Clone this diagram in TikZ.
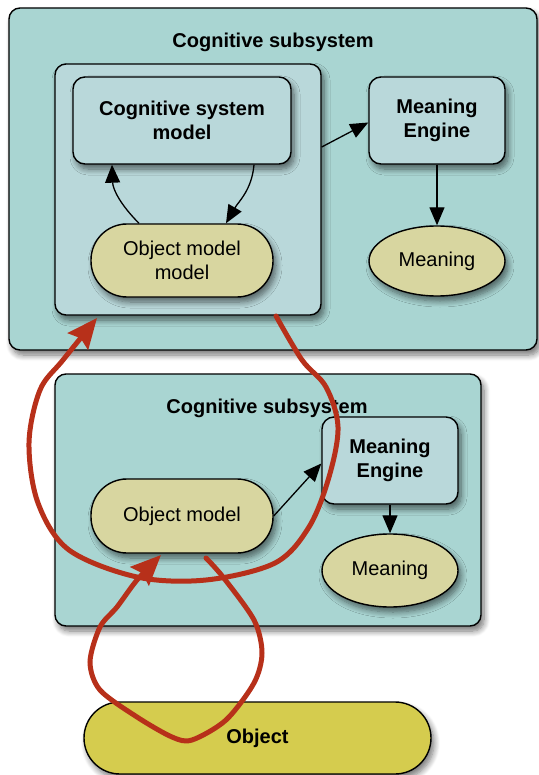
\documentclass[tikz,border=0pt]{standalone}
\usepackage{fontspec}
\setmainfont{Liberation Sans}
\usetikzlibrary{arrows.meta,shapes.geometric,shadows,shadows.blur}
\definecolor{tealbg}{HTML}{A9D5D2}
\definecolor{innerbg}{HTML}{B9D8DA}
\definecolor{khaki}{HTML}{D8D6A0}
\definecolor{objyellow}{HTML}{D5CC4E}
\definecolor{redline}{HTML}{B7301A}
\begin{document}
\begin{tikzpicture}[x=1pt,y=1pt,
  every node/.style={font=\fontsize{20}{24}\selectfont, align=center, inner sep=0pt},
  shad/.style={blur shadow={shadow xshift=3pt, shadow yshift=-5pt, shadow blur radius=6pt, shadow blur steps=8, shadow opacity=55}},
  outerbox/.style={draw=black, line width=1.4pt, rounded corners=11pt, fill=tealbg, shad},
  innerbox/.style={draw=black, line width=1.4pt, rounded corners=11pt, fill=innerbg, shad},
  procbox/.style={draw=black, line width=1.4pt, rounded corners=12pt, fill=innerbg, shad, font=\fontsize{20}{24}\selectfont\bfseries},
  pill/.style={draw=black, line width=1.4pt, rounded corners=36pt, fill=khaki, shad},
  ell/.style={ellipse, draw=black, line width=1.4pt, fill=khaki, shad},
  ttl/.style={font=\fontsize{20}{24}\selectfont\bfseries},
  arr/.style={draw=black, line width=1.3pt, -{Triangle[length=18pt,width=15pt]}},
  redarr/.style={draw=redline, line width=5pt, line cap=round, -{Stealth[length=30pt,width=26pt,inset=4pt]}}
]
\useasboundingbox (0,0) rectangle (538,-775);
% top subsystem
\node[outerbox, minimum width=528pt, minimum height=342pt] (top) at (273,-179) {};
\node[ttl] (t1) at (273,-42) {Cognitive subsystem};
\node[innerbox, minimum width=266pt, minimum height=251pt] (inner) at (188,-189.5) {};
\node[procbox, minimum width=218pt, minimum height=87pt] (csm) at (182,-120.5) {Cognitive system\\model};
\node[procbox, minimum width=136pt, minimum height=87pt] (me1) at (437,-120.5) {Meaning\\Engine};
\node[pill, minimum width=182pt, minimum height=73pt] (omm) at (182,-260.5) {Object model\\model};
\node[ell, minimum width=136pt, minimum height=70pt] (m1) at (437,-261) {Meaning};
\draw[arr] ([yshift=42.5pt]inner.east) -- ([yshift=-2pt]me1.west);
\draw[arr] (me1.south) -- (m1.north);
\draw[arr] ([xshift=-43pt]omm.north) to[out=135,in=-88] ([xshift=-70pt]csm.south);
\draw[arr] ([xshift=72pt]csm.south) to[out=-95,in=60] ([xshift=44pt]omm.north);
% bottom subsystem
\node[outerbox, minimum width=426pt, minimum height=252pt] (bot) at (268,-500) {};
\node[ttl] (t2) at (267,-408) {Cognitive subsystem};
\node[procbox, minimum width=136pt, minimum height=87pt] (me2) at (390,-460.5) {Meaning\\Engine};
\node[pill, minimum width=182pt, minimum height=74pt] (om) at (182,-516) {Object model};
\node[ell, minimum width=136pt, minimum height=73pt] (m2) at (390,-570.5) {Meaning};
\draw[arr] (om.east) -- ([yshift=-3pt]me2.west);
\draw[arr] (me2.south) -- (m2.north);
% object
\node[draw=black, line width=1.4pt, rounded corners=36pt, fill=objyellow, shad, minimum width=347pt, minimum height=72pt, ttl] (obj) at (257.5,-738) {Object};
% red loops
\draw[redarr] plot[smooth, tension=0.55] coordinates {(276,-316) (302,-360) (326,-387) (338,-427) (329,-477) (309,-527) (275,-563) (206,-580) (137,-577) (69,-550) (38,-503) (29,-443) (40,-390) (63,-360) (97,-318)};
\draw[redarr] plot[smooth, tension=0.5] coordinates {(206,-558) (223,-577) (254,-620) (262,-653) (254,-683) (226,-720) (192,-740) (172,-737) (137,-717) (100,-690) (90,-662) (100,-627) (117,-607) (137,-580) (161,-555)};
\end{tikzpicture}
\end{document}
